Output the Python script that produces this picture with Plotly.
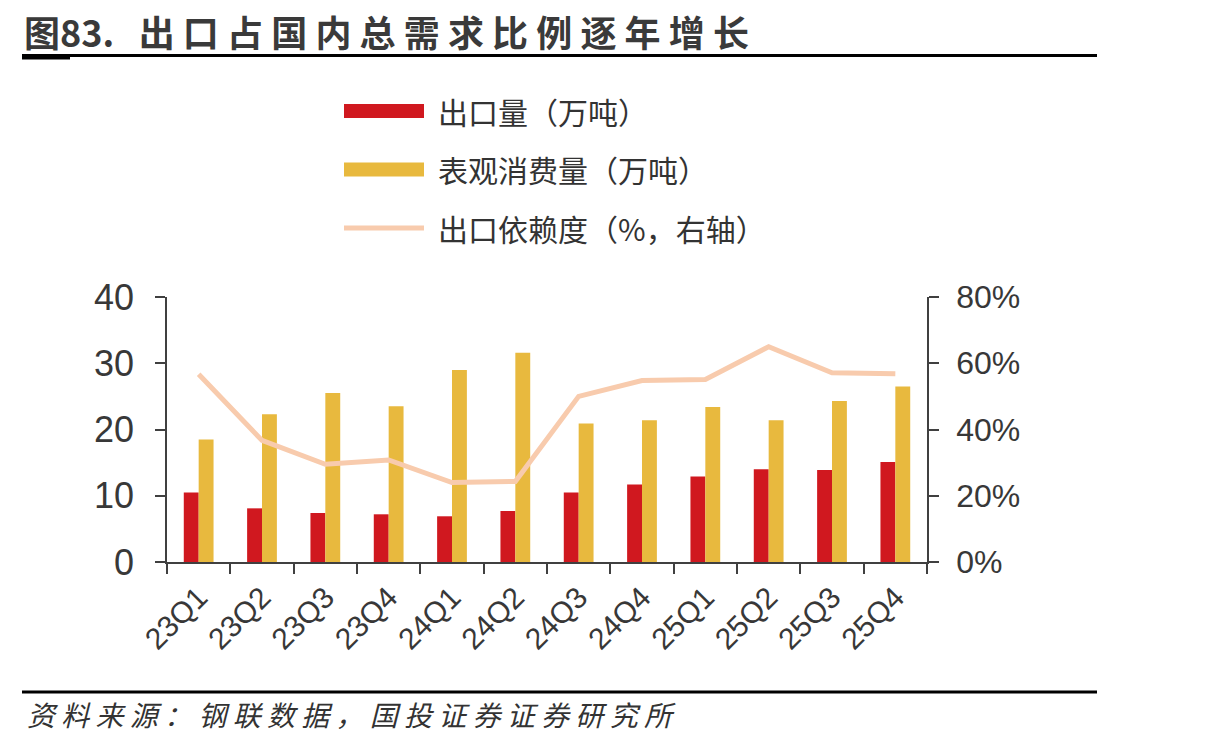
import plotly.graph_objects as go

categories = ["23Q1", "23Q2", "23Q3", "23Q4", "24Q1", "24Q2",
              "24Q3", "24Q4", "25Q1", "25Q2", "25Q3", "25Q4"]
export_vol = [10.5, 8.1, 7.4, 7.2, 6.9, 7.7, 10.5, 11.7, 12.9, 14.0, 13.9, 15.1]
consumption = [18.5, 22.3, 25.5, 23.5, 29.0, 31.6, 20.9, 21.4, 23.4, 21.4, 24.3, 26.5]
dependence = [56.7, 36.7, 29.5, 30.8, 24.0, 24.3, 50.0, 54.8, 55.1, 65.0, 57.1, 56.8]

left_ticks = [0, 10, 20, 30, 40]
right_ticks = [0, 20, 40, 60, 80]
right_tick_labels = ["0%", "20%", "40%", "60%", "80%"]

title_text = "图83.\u00a0\u00a0 出 口 占 国 内 总 需 求 比 例 逐 年 增 长"
legend_names = ["出口量（万吨）", "表观消费量（万吨）", "出口依赖度（%，右轴）"]
source_text = "资 料 来 源 ： 钢 联 数 据 ， 国 投 证 券 证 券 研 究 所"

W, H = 1213, 744
RED = "#D0181F"
YELLOW = "#E8B93E"
PEACH = "#F8CBAD"
AXIS = "#404040"
TXT = "#383838"
CJK = "Noto Sans CJK SC"
NUM = "Liberation Sans, Arial, sans-serif"

def px(x):
    return x / W

def py(y):
    return 1 - y / H

fig = go.Figure()
fig.add_trace(go.Bar(x=categories, y=export_vol, name=legend_names[0],
                     marker=dict(color=RED, line=dict(width=0)), showlegend=False))
fig.add_trace(go.Bar(x=categories, y=consumption, name=legend_names[1],
                     marker=dict(color=YELLOW, line=dict(width=0)), showlegend=False))
fig.add_trace(go.Scatter(x=categories, y=dependence, name=legend_names[2], yaxis="y2",
                         mode="lines", line=dict(color=PEACH, width=5), showlegend=False))

fig.update_layout(
    width=W, height=H,
    margin=dict(l=0, r=0, t=0, b=0),
    paper_bgcolor="white", plot_bgcolor="white",
    barmode="group", bargap=0.53, bargroupgap=0,
    xaxis=dict(domain=[px(167), px(927)], type="category",
               showline=True, linecolor=AXIS, linewidth=1.5,
               ticks="outside", ticklen=10, tickwidth=1.5, tickcolor=AXIS,
               tickson="boundaries", tickangle=-45, ticklabelstandoff=4,
               tickfont=dict(family=NUM, size=30, color=TXT),
               showgrid=False, zeroline=False, automargin=False,
               anchor="y"),
    yaxis=dict(domain=[py(562), py(297)], range=[0, 40],
               tickvals=left_ticks, ticklabelstandoff=14,
               showline=True, linecolor=AXIS, linewidth=1.5,
               ticks="outside", ticklen=10, tickwidth=1.5, tickcolor=AXIS,
               tickfont=dict(family=NUM, size=36, color=TXT),
               showgrid=False, zeroline=False, automargin=False),
    yaxis2=dict(overlaying="y", side="right", range=[0, 80],
                tickvals=right_ticks, ticktext=right_tick_labels, ticklabelstandoff=11,
                showline=True, linecolor=AXIS, linewidth=1.5,
                ticks="outside", ticklen=10, tickwidth=1.5, tickcolor=AXIS,
                tickfont=dict(family=NUM, size=32, color=TXT),
                showgrid=False, zeroline=False, automargin=False,
                anchor="x"),
)

shapes = []
annotations = []

# title and rules
annotations.append(dict(text="<b>" + title_text + "</b>", x=px(22), y=py(31),
                        xref="paper", yref="paper", xanchor="left", yanchor="middle",
                        showarrow=False, font=dict(family=CJK, size=36, color="#3a3a3a")))
shapes.append(dict(type="line", xref="paper", yref="paper",
                   x0=px(22), x1=px(1097), y0=py(55.5), y1=py(55.5),
                   line=dict(color="black", width=3)))
shapes.append(dict(type="line", xref="paper", yref="paper",
                   x0=px(22), x1=px(70), y0=py(58), y1=py(58),
                   line=dict(color="black", width=3)))
shapes.append(dict(type="line", xref="paper", yref="paper",
                   x0=px(22), x1=px(1097), y0=py(692), y1=py(692),
                   line=dict(color="black", width=3)))
annotations.append(dict(text="<i>" + source_text + "</i>", x=px(25), y=py(714),
                        xref="paper", yref="paper", xanchor="left", yanchor="middle",
                        showarrow=False, font=dict(family=CJK, size=28, color="#333333")))

# custom legend
leg_y = [111, 169.5, 228]
shapes.append(dict(type="rect", xref="paper", yref="paper",
                   x0=px(344), x1=px(424), y0=py(leg_y[0] - 7), y1=py(leg_y[0] + 7),
                   fillcolor=RED, line=dict(width=0)))
shapes.append(dict(type="rect", xref="paper", yref="paper",
                   x0=px(344), x1=px(424), y0=py(leg_y[1] - 7), y1=py(leg_y[1] + 7),
                   fillcolor=YELLOW, line=dict(width=0)))
shapes.append(dict(type="line", xref="paper", yref="paper",
                   x0=px(344), x1=px(424), y0=py(leg_y[2]), y1=py(leg_y[2]),
                   line=dict(color=PEACH, width=5)))
for name, yy in zip(legend_names, leg_y):
    annotations.append(dict(text=name, x=px(436), y=py(yy), xref="paper", yref="paper",
                            xanchor="left", yanchor="middle", showarrow=False,
                            font=dict(family=CJK, size=30, color="#333333")))

fig.update_layout(shapes=shapes, annotations=annotations)
fig.write_html("out.html")
